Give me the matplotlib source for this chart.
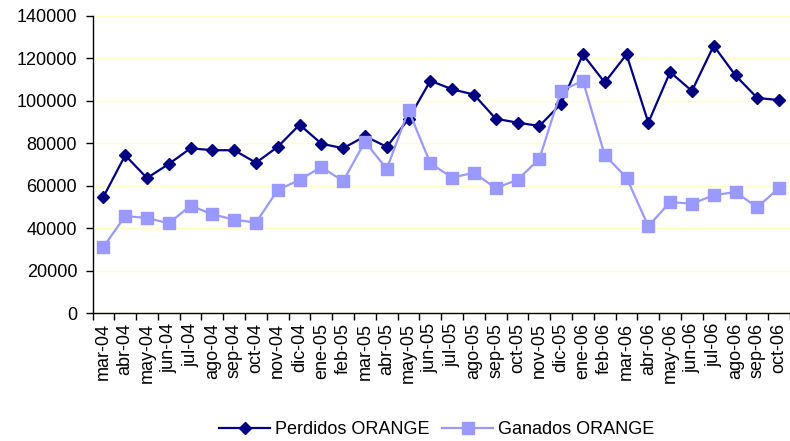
import matplotlib
matplotlib.use("Agg")
import matplotlib.pyplot as plt
import numpy as np

months = ["mar-04", "abr-04", "may-04", "jun-04", "jul-04", "ago-04", "sep-04", "oct-04",
          "nov-04", "dic-04", "ene-05", "feb-05", "mar-05", "abr-05", "may-05", "jun-05",
          "jul-05", "ago-05", "sep-05", "oct-05", "nov-05", "dic-05", "ene-06", "feb-06",
          "mar-06", "abr-06", "may-06", "jun-06", "jul-06", "ago-06", "sep-06", "oct-06"]

perdidos = [54800, 74400, 63700, 70300, 77700, 76800, 76800, 70900,
            78400, 88800, 79900, 77700, 83400, 78400, 91500, 109500,
            105500, 103000, 91600, 89800, 88200, 98700, 121900, 108700,
            121900, 89800, 113600, 104700, 126000, 112000, 101400, 100400]

ganados = [31200, 45800, 44900, 42400, 50700, 46600, 44100, 42700,
           58100, 62800, 68900, 62200, 80800, 68000, 95600, 70600,
           63900, 66200, 58900, 62900, 72700, 104800, 109500, 74500,
           63900, 41000, 52400, 51600, 55600, 57100, 49900, 59100]

yticks = [0, 20000, 40000, 60000, 80000, 100000, 120000, 140000]

plt.rcParams['font.family'] = ['Liberation Sans', 'DejaVu Sans']

fig = plt.figure(figsize=(7.9, 4.41), dpi=100)
ax = fig.add_axes([92.5 / 790, 1 - 313.3 / 441, 697.5 / 790, (313.3 - 16) / 441])

x = np.arange(len(months))
ax.plot(x, perdidos, color="#000080", lw=1.6, marker="D", markersize=6.5,
        label="Perdidos ORANGE", zorder=3)
ax.plot(x, ganados, color="#9999FF", lw=1.6, marker="s", markersize=8.5,
        label="Ganados ORANGE", zorder=4)

ax.set_xlim(-0.5, len(months) - 0.5)
ax.set_ylim(0, 140000)
ax.set_yticks(yticks)
ax.set_yticklabels([str(v) for v in yticks], fontsize=13)
ax.yaxis.grid(True, color="#FFFFC8", lw=1)
ax.set_axisbelow(True)

ax.set_xticks(x)
ax.set_xticklabels(months, rotation=90, fontsize=13)
ax.tick_params(axis="x", which="major", length=0, pad=7)
ax.set_xticks(np.arange(-0.5, len(months), 1), minor=True)
ax.tick_params(axis="x", which="minor", length=5, width=1, direction="out")
ax.tick_params(axis="y", length=5, width=1, direction="out", pad=6)

for s in ["top", "right"]:
    ax.spines[s].set_visible(False)
for s in ["left", "bottom"]:
    ax.spines[s].set_color("black")
    ax.spines[s].set_linewidth(1)

fig.legend(loc="center", bbox_to_anchor=(437 / 790, 1 - 430 / 441), ncol=2,
           frameon=False, fontsize=13, handlelength=2.8, handletextpad=0.3,
           columnspacing=0.7)

fig.savefig("out.png", dpi=100)
